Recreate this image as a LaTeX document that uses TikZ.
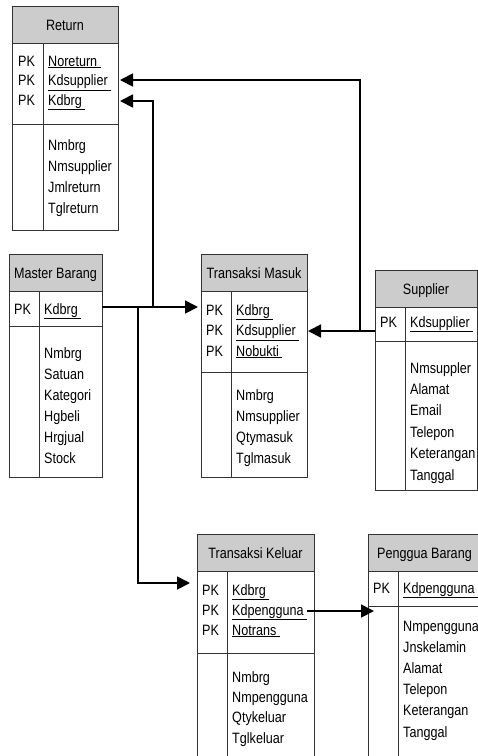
\documentclass[tikz,border=0pt]{standalone}
\usepackage{fontspec}
\setmainfont{Liberation Sans}[FakeStretch=0.84]
\usetikzlibrary{arrows.meta}
\tikzset{
  fld/.style={anchor=base west, inner sep=0pt, font=\fontsize{15}{17}\selectfont},
  ttl/.style={anchor=base, inner sep=0pt, font=\fontsize{15}{17}\selectfont},
  hdr/.style={draw=black!80, fill=black!20, line width=0.8pt},
  frame/.style={draw=black!80, line width=0.8pt},
  conn/.style={line width=1.8pt, -{Triangle[length=13pt,width=13pt]}},
  wire/.style={line width=1.8pt},
}
% #1 name, #2 x1, #3 x2, #4 xdiv, #5 ytop, #6 yhead, #7 ypk, #8 ybot, #9 title
\newcommand{\entbox}[9]{%
  \filldraw[hdr] (#2,#5) rectangle (#3,#6);
  \draw[frame] (#2,#6) rectangle (#3,#8);
  \draw[frame] (#4,#6) -- (#4,#8);
  \draw[frame] (#2,#7) -- (#3,#7);
  \node[ttl] (#1-title) at ({(#2+#3)/2},{(#5+#6)/2+5.5}) {#9};
}
% #1 prefix, #2 x, #3 first baseline, #4 step, #5 list
\newcommand{\fieldlist}[5]{%
  \foreach \t [count=\i] in {#5} {
    \node[fld] (#1-\i) at (#2,{#3+(\i-1)*#4}) {\t};
  }
}
\newcommand{\ul}[1]{\underline{#1\ }}
\begin{document}
\begin{tikzpicture}[x=1pt,y=-1pt]
\clip (0,0) rectangle (478,756);
\fill[white] (0,0) rectangle (478,756);

% Return
\entbox{ret}{12}{118}{43}{6}{43}{124}{230}{Return}
\fieldlist{retpk}{18}{66}{19.5}{PK,PK,PK}
\fieldlist{retk}{48}{66}{19.5}{\ul{Noreturn},\ul{Kdsupplier},\ul{Kdbrg}}
\fieldlist{retb}{48}{150}{21.3}{Nmbrg,Nmsupplier,Jmlreturn,Tglreturn}

% Master Barang
\entbox{mb}{9}{102}{39}{254}{291}{326}{477}{Master Barang}
\fieldlist{mbpk}{14}{314}{20}{PK}
\fieldlist{mbk}{44}{314}{20}{\ul{Kdbrg}}
\fieldlist{mbb}{44}{358}{21}{Nmbrg,Satuan,Kategori,Hgbeli,Hrgjual,Stock}

% Transaksi Masuk
\entbox{tm}{201}{307}{231}{254}{291}{372}{477}{Transaksi Masuk}
\fieldlist{tmpk}{206}{315}{20.5}{PK,PK,PK}
\fieldlist{tmk}{236}{315}{20.5}{\ul{Kdbrg},\ul{Kdsupplier},\ul{Nobukti}}
\fieldlist{tmb}{236}{400}{21.3}{Nmbrg,Nmsupplier,Qtymasuk,Tglmasuk}

% Supplier
\entbox{sup}{375}{477}{405}{270}{307}{341}{490}{Supplier}
\fieldlist{suppk}{380}{327}{20}{PK}
\fieldlist{supk}{410}{327}{20}{\ul{Kdsupplier}}
\fieldlist{supb}{410}{373}{21.4}{Nmsuppler,Alamat,Email,Telepon,Keterangan,Tanggal}

% Transaksi Keluar
\entbox{tk}{197}{314}{227}{534}{571}{653}{770}{Transaksi Keluar}
\fieldlist{tkpk}{202}{595}{20}{PK,PK,PK}
\fieldlist{tkk}{232}{595}{20}{\ul{Kdbrg},\ul{Kdpengguna},\ul{Notrans}}
\fieldlist{tkb}{232}{682}{20.4}{Nmbrg,Nmpengguna,Qtykeluar,Tglkeluar}

% Penggua Barang
\entbox{pb}{368}{481}{398}{534}{571}{606}{770}{Penggua Barang}
\fieldlist{pbpk}{373}{593}{20}{PK}
\fieldlist{pbk}{403}{593}{20}{\ul{Kdpengguna}}
\fieldlist{pbb}{403}{631}{21.2}{Nmpengguna,Jnskelamin,Alamat,Telepon,Keterangan,Tanggal}

% connector end points
\coordinate (supL) at (375,331);
\coordinate (tmR) at (308,331);
\coordinate (j1) at (360,331);
\coordinate (retT1) at (120,80);
\coordinate (retT2) at (120,101);
\coordinate (mbR) at (102,307);
\coordinate (tmL) at (198,307);
\coordinate (j2) at (153,307);
\coordinate (j3) at (138,307);
\coordinate (tkL) at (190,583);
\coordinate (tkR) at (307,611);
\coordinate (pbL) at (374,611);

\draw[conn] (supL) -- (tmR);
\draw[conn] (j1) |- (retT1);
\draw[conn] (mbR) -- (tmL);
\draw[conn] (j2) |- (retT2);
\draw[conn] (j3) |- (tkL);
\draw[conn] (tkR) -- (pbL);
\end{tikzpicture}
\end{document}
